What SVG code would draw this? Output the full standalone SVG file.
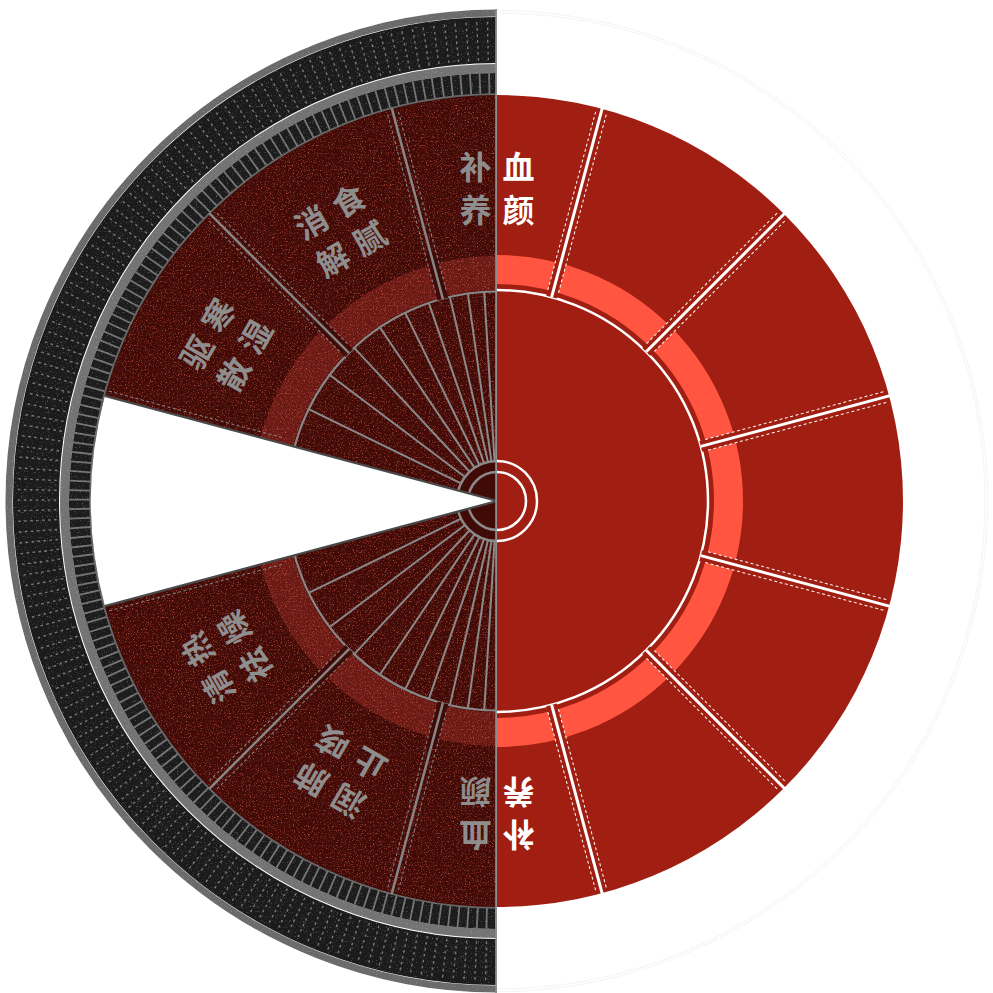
<svg xmlns="http://www.w3.org/2000/svg" xmlns:xlink="http://www.w3.org/1999/xlink" width="993" height="993" viewBox="0 0 993 993">
<style>
.t{font-family:"Noto Sans CJK SC","Noto Sans CJK TC",sans-serif;font-weight:700;font-size:32px;text-anchor:middle}
.tw{fill:#ffffff}
.tg{fill:#8e8e8e}
.dw{stroke:#ffffff;stroke-width:1;stroke-dasharray:3 2.5;fill:none}
.dg{stroke:#8a8a8a;stroke-width:1;stroke-dasharray:3 2.5;fill:none}
</style>
<defs>
<clipPath id="clipL"><rect x="0" y="0" width="497" height="993"/></clipPath>
<clipPath id="clipR"><rect x="497" y="0" width="496" height="993"/></clipPath>
<clipPath id="disc"><circle cx="497" cy="501" r="405"/></clipPath>
<clipPath id="ann"><path clip-rule="evenodd" d="M5,501 a492,492 0 1,0 984,0 a492,492 0 1,0 -984,0 Z M92,501 a405,405 0 1,0 810,0 a405,405 0 1,0 -810,0 Z"/></clipPath>
<filter id="grainR" filterUnits="userSpaceOnUse" x="0" y="0" width="497" height="993">
<feTurbulence type="fractalNoise" baseFrequency="0.75" numOctaves="2" seed="7"/>
<feColorMatrix type="matrix" values="0 0 0 0 0.8  0 0 0 0 0.14  0 0 0 0 0.09  2.4 0 0 0 -1.3"/>
</filter>
<filter id="grainG" filterUnits="userSpaceOnUse" x="0" y="0" width="497" height="993">
<feTurbulence type="fractalNoise" baseFrequency="0.8" numOctaves="2" seed="11"/>
<feColorMatrix type="matrix" values="0 0 0 0 0.55  0 0 0 0 0.55  0 0 0 0 0.55  1.6 0 0 0 -0.98"/>
</filter>
<g id="divR">
<line x1="708" y1="501" x2="752" y2="501" stroke="#A11F12" stroke-width="11"/>
<line x1="714" y1="495.5" x2="901" y2="495.5" class="dw"/>
<line x1="714" y1="506.5" x2="901" y2="506.5" class="dw"/>
<line x1="708" y1="501" x2="904" y2="501" stroke="#ffffff" stroke-width="3"/>
</g>
<g id="divL">
<line x1="706" y1="501" x2="752" y2="501" stroke="#400A07" stroke-width="11"/>
<line x1="714" y1="495.5" x2="901" y2="495.5" class="dg"/>
<line x1="714" y1="506.5" x2="901" y2="506.5" class="dg"/>
<line x1="706" y1="501" x2="904" y2="501" stroke="#868686" stroke-width="2.5"/>
</g>
<line id="fan" x1="537" y1="501" x2="706" y2="501" stroke="#8a8a8a" stroke-width="2"/>
</defs>

<rect x="0" y="0" width="993" height="993" fill="#ffffff"/>

<g id="right-half" clip-path="url(#clipR)">
<circle cx="497" cy="501" r="488" fill="none" stroke="#ebebeb" stroke-width="1" stroke-dasharray="1.5 1"/>
<circle cx="497" cy="501" r="490.5" fill="none" stroke="#ebebeb" stroke-width="1" stroke-dasharray="1.5 1"/>
<circle cx="497" cy="501" r="406" fill="#A11F12"/>
<circle cx="497" cy="501" r="231.5" fill="none" stroke="#FF5541" stroke-width="29"/>
<circle cx="497" cy="501" r="211" fill="none" stroke="#ffffff" stroke-width="2.5"/>
<g id="connectors-right">
<use xlink:href="#divR" transform="rotate(-15 497 501)"/>
<use xlink:href="#divR" transform="rotate(-45 497 501)"/>
<use xlink:href="#divR" transform="rotate(-75 497 501)"/>
<use xlink:href="#divR" transform="rotate(15 497 501)"/>
<use xlink:href="#divR" transform="rotate(45 497 501)"/>
<use xlink:href="#divR" transform="rotate(75 497 501)"/>
</g>
<circle cx="497" cy="501" r="40" fill="none" stroke="#ffffff" stroke-width="2.5"/>
<circle cx="497" cy="501" r="29" fill="none" stroke="#ffffff" stroke-width="2.5"/>
</g>

<g id="left-half" clip-path="url(#clipL)">
<g id="outer-ring">
<circle cx="497" cy="501" r="488" fill="none" stroke="#6a6a6a" stroke-width="7"/>
<circle cx="497" cy="501" r="461" fill="none" stroke="#1b1b1b" stroke-width="46"/>
<circle cx="497" cy="501" r="432.5" fill="none" stroke="#737373" stroke-width="9"/>
<circle cx="497" cy="501" r="417.5" fill="none" stroke="#1c1c1c" stroke-width="21"/>
<circle cx="497" cy="501" r="417.5" fill="none" stroke="#747474" stroke-width="21" stroke-dasharray="1.8 7.569"/>
<circle cx="497" cy="501" r="406.5" fill="none" stroke="#666666" stroke-width="2.5"/>
<g fill="none" stroke="#808080" stroke-width="2.6" opacity="0.9">
<circle cx="497" cy="501" r="442" stroke-dasharray="1.4 8.518"/>
<circle cx="497" cy="501" r="448" stroke-dasharray="1.4 8.653"/>
<circle cx="497" cy="501" r="454" stroke-dasharray="1.4 8.788"/>
<circle cx="497" cy="501" r="460" stroke-dasharray="1.4 8.922"/>
<circle cx="497" cy="501" r="466" stroke-dasharray="1.4 9.057"/>
<circle cx="497" cy="501" r="472" stroke-dasharray="1.4 9.192"/>
<circle cx="497" cy="501" r="478" stroke-dasharray="1.4 9.326"/>
</g>
<rect x="0" y="0" width="497" height="993" filter="url(#grainG)" clip-path="url(#ann)"/>
</g>
<circle cx="497" cy="501" r="406" fill="#400A07"/>
<circle cx="497" cy="501" r="228" fill="none" stroke="#6A1A14" stroke-width="34"/>
<rect x="0" y="0" width="497" height="993" filter="url(#grainR)" clip-path="url(#disc)"/>
<circle cx="497" cy="501" r="209.5" fill="none" stroke="#888888" stroke-width="2.2"/>
<g id="connectors-left">
<use xlink:href="#divL" transform="rotate(-105 497 501)"/>
<use xlink:href="#divL" transform="rotate(-135 497 501)"/>
<use xlink:href="#divL" transform="rotate(-225 497 501)"/>
<use xlink:href="#divL" transform="rotate(-255 497 501)"/>
</g>
<g id="fan-lines">
<use xlink:href="#fan" transform="rotate(-93.5 497 501)"/>
<use xlink:href="#fan" transform="rotate(-98 497 501)"/>
<use xlink:href="#fan" transform="rotate(-103 497 501)"/>
<use xlink:href="#fan" transform="rotate(-109 497 501)"/>
<use xlink:href="#fan" transform="rotate(-116 497 501)"/>
<use xlink:href="#fan" transform="rotate(-124 497 501)"/>
<use xlink:href="#fan" transform="rotate(-133 497 501)"/>
<use xlink:href="#fan" transform="rotate(-143 497 501)"/>
<use xlink:href="#fan" transform="rotate(-154 497 501)"/>
<use xlink:href="#fan" transform="rotate(-266.5 497 501)"/>
<use xlink:href="#fan" transform="rotate(-262 497 501)"/>
<use xlink:href="#fan" transform="rotate(-257 497 501)"/>
<use xlink:href="#fan" transform="rotate(-251 497 501)"/>
<use xlink:href="#fan" transform="rotate(-244 497 501)"/>
<use xlink:href="#fan" transform="rotate(-236 497 501)"/>
<use xlink:href="#fan" transform="rotate(-227 497 501)"/>
<use xlink:href="#fan" transform="rotate(-217 497 501)"/>
<use xlink:href="#fan" transform="rotate(-206 497 501)"/>
</g>
<circle cx="497" cy="501" r="40" fill="#400A07" stroke="#8a8a8a" stroke-width="2.5"/>
<circle cx="497" cy="501" r="29" fill="none" stroke="#8a8a8a" stroke-width="2.5"/>
<g id="wedge">
<path d="M497,501 L104.8,395.9 A406,406 0 0,0 104.8,606.1 Z" fill="#ffffff"/>
<line x1="497" y1="501" x2="104.8" y2="395.9" stroke="#4a4a4a" stroke-width="2.2"/>
<line x1="497" y1="501" x2="104.8" y2="606.1" stroke="#4a4a4a" stroke-width="2.2"/>
<line x1="282" y1="437.5" x2="107" y2="390.6" class="dg"/>
<line x1="282" y1="564.5" x2="107" y2="611.4" class="dg"/>
</g>
<line x1="496.2" y1="9" x2="496.2" y2="993" stroke="#8f8f8f" stroke-width="2"/>
</g>

<g id="seg-buxue-top">
<text class="t tg" x="475.5" y="179">补</text>
<text class="t tw" x="518.5" y="179">血</text>
<text class="t tg" x="475.5" y="222">养</text>
<text class="t tw" x="518.5" y="222">颜</text>
</g>
<g id="seg-xiaoshi" transform="rotate(-30 497 501)">
<text class="t tg" x="475.5" y="179">消</text>
<text class="t tg" x="518.5" y="179">食</text>
<text class="t tg" x="475.5" y="222">解</text>
<text class="t tg" x="518.5" y="222">腻</text>
</g>
<g id="seg-quhan" transform="rotate(-60 497 501)">
<text class="t tg" x="475.5" y="179">驱</text>
<text class="t tg" x="518.5" y="179">寒</text>
<text class="t tg" x="475.5" y="222">散</text>
<text class="t tg" x="518.5" y="222">湿</text>
</g>
<g id="seg-qingre" transform="rotate(-120 497 501)">
<text class="t tg" x="475.5" y="179">清</text>
<text class="t tg" x="518.5" y="179">热</text>
<text class="t tg" x="475.5" y="222">祛</text>
<text class="t tg" x="518.5" y="222">燥</text>
</g>
<g id="seg-runfei" transform="rotate(-150 497 501)">
<text class="t tg" x="475.5" y="179">润</text>
<text class="t tg" x="518.5" y="179">肺</text>
<text class="t tg" x="475.5" y="222">止</text>
<text class="t tg" x="518.5" y="222">咳</text>
</g>
<g id="seg-buxue-bottom" transform="rotate(180 497 501)">
<text class="t tw" x="475.5" y="179">补</text>
<text class="t tg" x="518.5" y="179">血</text>
<text class="t tw" x="475.5" y="222">养</text>
<text class="t tg" x="518.5" y="222">颜</text>
</g>
</svg>
